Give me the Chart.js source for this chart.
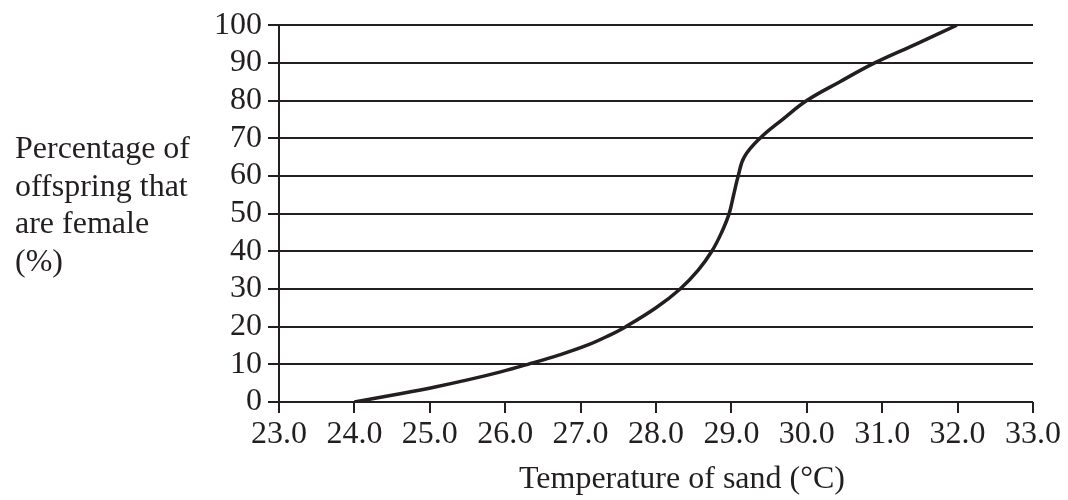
<!DOCTYPE html>
<html>
<head>
<meta charset="utf-8">
<script src="https://cdn.jsdelivr.net/npm/chart.js@4/dist/chart.umd.min.js"></script>
<style>
  html, body { margin: 0; padding: 0; background: #ffffff; }
  #wrap { position: relative; width: 1068px; height: 500px; }
</style>
</head>
<body>
<div id="wrap"><canvas id="c" width="1068" height="500"></canvas></div>
<script>
// ---- data ----
const temperatures = [24.0, 24.55, 25.07, 25.53, 25.94, 26.3, 26.72, 27.08, 27.36, 27.6, 28.0, 28.32, 28.56, 28.74, 28.87, 28.97, 29.03, 29.09, 29.17, 29.38, 29.68, 30.0, 30.44, 30.9, 31.45, 31.99];
const femalePct    = [0,    2,     4,     6,     8,     10,   12.5,  15,    17.5,  20,   25,   30,    35,    40,    45,    50,    55,    60,    65,    70,    75,    80,   85,    90,   95,    100];
const xTickValues  = [23, 24, 25, 26, 27, 28, 29, 30, 31, 32, 33];
const yTickValues  = [0, 10, 20, 30, 40, 50, 60, 70, 80, 90, 100];
const yTitleLines  = ["Percentage of", "offspring that", "are female", "(%)"];
const xTitleText   = "Temperature of sand (°C)";

const INK = '#231f20';
const FONT_FAMILY = '"Liberation Serif", "Times New Roman", serif';
const FONT_SIZE = 32;

const points = temperatures.map((t, i) => ({ x: t, y: femalePct[i] }));

const titlesPlugin = {
  id: 'titles',
  afterDraw(chart) {
    const ctx = chart.ctx;
    ctx.save();
    ctx.fillStyle = INK;
    ctx.font = FONT_SIZE + 'px ' + FONT_FAMILY;
    ctx.textBaseline = 'alphabetic';
    ctx.textAlign = 'left';
    const baseY = 158, step = 37.5;
    yTitleLines.forEach((line, i) => ctx.fillText(line, 15, baseY + i * step));
    ctx.textAlign = 'center';
    ctx.fillText(xTitleText, 682, 488);
    ctx.restore();
  }
};

new Chart(document.getElementById('c'), {
  type: 'scatter',
  data: {
    datasets: [{
      data: points,
      showLine: true,
      borderColor: INK,
      borderWidth: 3.5,
      pointRadius: 0,
      pointHoverRadius: 0,
      tension: 0.4,
      fill: false
    }]
  },
  options: {
    responsive: false,
    animation: false,
    events: [],
    layout: { padding: { top: 24, right: 35, bottom: 0, left: 0 } },
    plugins: { legend: { display: false }, tooltip: { enabled: false } },
    scales: {
      x: {
        type: 'linear',
        min: 23, max: 33,
        afterBuildTicks(scale) { scale.ticks = xTickValues.map(v => ({ value: v })); },
        afterFit(scale) { scale.height = 98; },
        ticks: {
          color: INK,
          padding: 2,
          autoSkip: false,
          font: { family: FONT_FAMILY, size: FONT_SIZE },
          maxRotation: 0,
          callback: v => Number(v).toFixed(1)
        },
        grid: { drawOnChartArea: false, drawTicks: true, tickLength: 11, color: INK, lineWidth: 2 },
        border: { display: false }
      },
      y: {
        type: 'linear',
        min: 0, max: 100,
        afterBuildTicks(scale) { scale.ticks = yTickValues.map(v => ({ value: v })); },
        afterFit(scale) { scale.width = 279; },
        ticks: {
          color: INK,
          padding: 6,
          autoSkip: false,
          font: { family: FONT_FAMILY, size: FONT_SIZE }
        },
        grid: { drawOnChartArea: true, drawTicks: true, tickLength: 11, color: INK, lineWidth: 2 },
        border: { display: true, color: INK, width: 2 }
      }
    }
  },
  plugins: [titlesPlugin]
});
</script>
</body>
</html>
